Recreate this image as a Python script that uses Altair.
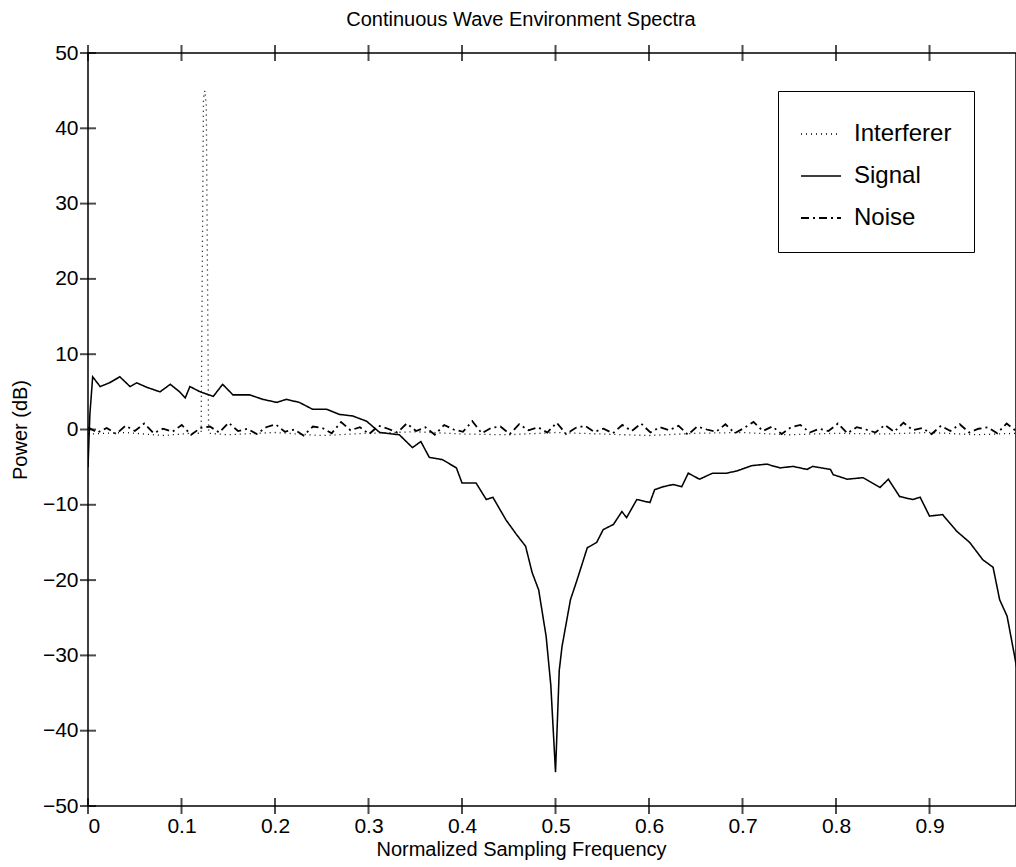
import altair as alt
import pandas as pd
import numpy as np

# ---- data ----
signal_f = [0.000, 0.002, 0.005, 0.013, 0.023, 0.034, 0.045, 0.052, 0.063, 0.077,
            0.088, 0.098, 0.104, 0.109, 0.120, 0.134, 0.144, 0.155, 0.173, 0.187,
            0.202, 0.212, 0.226, 0.240, 0.255, 0.269, 0.283, 0.298, 0.312, 0.333,
            0.347, 0.356, 0.365, 0.379, 0.394, 0.400, 0.415, 0.426, 0.433, 0.447,
            0.458, 0.468, 0.475, 0.482, 0.490, 0.495, 0.500, 0.504, 0.507, 0.516,
            0.523, 0.534, 0.544, 0.551, 0.562, 0.571, 0.576, 0.587, 0.601, 0.606,
            0.615, 0.626, 0.635, 0.642, 0.654, 0.668, 0.683, 0.694, 0.710, 0.726,
            0.740, 0.754, 0.769, 0.775, 0.794, 0.797, 0.812, 0.829, 0.847, 0.856,
            0.868, 0.882, 0.890, 0.900, 0.914, 0.929, 0.943, 0.957, 0.968, 0.975,
            0.983, 0.991, 0.993]
signal_db = [-5.0, 2.0, 7.0, 5.7, 6.2, 7.0, 5.7, 6.2, 5.6, 5.0,
             6.0, 5.0, 4.2, 5.7, 5.0, 4.4, 6.0, 4.6, 4.6, 4.0,
             3.6, 4.0, 3.6, 2.7, 2.7, 2.0, 1.8, 1.1, -0.4, -0.7,
             -2.4, -1.6, -3.7, -4.0, -5.1, -7.1, -7.1, -9.3, -9.0, -12.0,
             -13.9, -15.5, -19.0, -21.3, -27.5, -34.0, -45.5, -32.0, -28.8, -22.6,
             -20.0, -15.7, -15.0, -13.3, -12.6, -10.9, -11.7, -9.3, -9.7, -8.0,
             -7.6, -7.3, -7.6, -5.8, -6.6, -5.8, -5.8, -5.5, -4.8, -4.6,
             -5.1, -4.9, -5.3, -4.9, -5.3, -6.0, -6.6, -6.4, -7.7, -6.6,
             -8.9, -9.3, -9.0, -11.5, -11.3, -13.5, -15.0, -17.3, -18.3, -22.6,
             -24.8, -30.1, -31.5]

noise_db = [0.3, -0.4, 0.2, -0.6, 0.5, -0.2, 0.8, -0.5, 0.1, -0.3,
            0.6, -0.7, 0.2, 0.4, -0.4, 0.9, -0.2, 0.1, -0.6, 0.3,
            0.7, -0.3, 0.0, -0.8, 0.4, 0.2, -0.5, 1.0, -0.1, 0.3,
            -0.6, 0.5, 0.1, -0.4, 0.8, -0.2, 0.3, -0.7, 0.6, 0.0,
            -0.3, 1.1, -0.5, 0.2, 0.4, -0.6, 0.7, -0.1, 0.3, -0.4,
            0.9, -0.6, 0.2, 0.5, -0.3, 0.1, -0.5, 0.6, -0.2, 0.8,
            -0.4, 0.3, -0.1, 0.5, -0.7, 0.4, 0.0, -0.3, 0.7, -0.5,
            0.2, 1.0, -0.2, 0.4, -0.6, 0.3, 0.6, -0.4, 0.1, -0.2,
            0.8, -0.5, 0.3, 0.0, -0.4, 0.6, -0.3, 0.9, -0.1, 0.2,
            -0.6, 0.5, -0.2, 0.7, -0.4, 0.1, 0.3, -0.5, 0.8, -0.2]
noise_f = list(np.linspace(0.0, 0.9925, len(noise_db)))

interf_f = [0.000, 0.040, 0.080, 0.110, 0.121, 0.1235, 0.125, 0.1265, 0.129,
            0.150, 0.200, 0.250, 0.300, 0.350, 0.400, 0.450, 0.500, 0.550,
            0.600, 0.650, 0.700, 0.750, 0.800, 0.850, 0.900, 0.950, 0.9925]
interf_db = [-0.6, -0.4, -0.8, -0.5, -0.5, 44.0, 45.0, 43.0, -0.5,
             -0.7, -0.4, -0.8, -0.5, -0.3, -0.6, -0.7, -0.4, -0.6,
             -0.8, -0.5, -0.4, -0.7, -0.5, -0.6, -0.4, -0.7, -0.5]

x_ticks = [0.0, 0.1, 0.2, 0.3, 0.4, 0.5, 0.6, 0.7, 0.8, 0.9]
y_ticks = [-50, -40, -30, -20, -10, 0, 10, 20, 30, 40, 50]
x_domain = [0.0, 0.9925]
y_domain = [-50, 50]
series_names = ["Interferer", "Signal", "Noise"]

rows = []
for f, d in zip(interf_f, interf_db):
    rows.append({"series": "Interferer", "f": f, "db": d})
for f, d in zip(signal_f, signal_db):
    rows.append({"series": "Signal", "f": f, "db": d})
for f, d in zip(noise_f, noise_db):
    rows.append({"series": "Noise", "f": float(f), "db": d})
df = pd.DataFrame(rows)

# tick marks at the frame edges, built from the tick lists
vt_df = pd.DataFrame({"f": x_ticks + x_ticks,
                      "db": [y_domain[0]] * len(x_ticks) + [y_domain[1]] * len(x_ticks)})
ht_df = pd.DataFrame({"f": [x_domain[0]] * len(y_ticks), "db": y_ticks})

FONT = "Liberation Sans"

x_scale = alt.Scale(domain=x_domain, nice=False, zero=False)
y_scale = alt.Scale(domain=y_domain, nice=False)
dash_scale = alt.Scale(domain=series_names, range=[[1, 4], [1, 0], [8, 4, 2, 4]])
width_scale = alt.Scale(domain=series_names, range=[1.3, 1.8, 1.3])

y_axis = alt.Axis(orient="left", values=y_ticks, ticks=False, tickSize=0,
                  domain=False, grid=False, labelPadding=10,
                  labelFontSize=21, labelColor="black",
                  title="Power (dB)", titleFontSize=20, titleFontWeight="normal",
                  titleColor="black", titlePadding=12)

x_axis = alt.Axis(orient="bottom", values=x_ticks, format=".1~f", ticks=False,
                  tickSize=0, domain=False, grid=False,
                  labelPadding=9, labelFontSize=21, labelColor="black",
                  title="Normalized Sampling Frequency",
                  titleFontSize=20, titleFontWeight="normal", titleColor="black",
                  titlePadding=3, titleX=433)

legend = alt.Legend(title=None, orient="none", legendX=690, legendY=38,
                    symbolType="stroke", symbolSize=1600, symbolStrokeWidth=1.5,
                    symbolStrokeColor="black", labelFontSize=24, labelColor="black",
                    labelOffset=12, padding=22, rowPadding=9, strokeColor="black",
                    fillColor="white", cornerRadius=0, labelFont=FONT)

X = alt.X("f:Q", scale=x_scale, axis=x_axis)
Y = alt.Y("db:Q", scale=y_scale, axis=y_axis)

lines = alt.Chart(df).mark_line(color="black", clip=True).encode(
    x=X,
    y=Y,
    strokeDash=alt.StrokeDash("series:N", scale=dash_scale, legend=legend,
                              sort=series_names),
    strokeWidth=alt.StrokeWidth("series:N", scale=width_scale, legend=None),
)

vticks = alt.Chart(vt_df).mark_tick(orient="vertical", size=16, thickness=2,
                                    color="black").encode(x=X, y=Y)
hticks = alt.Chart(ht_df).mark_tick(orient="horizontal", size=16, thickness=2,
                                    color="black").encode(x=X, y=Y)

chart = alt.layer(lines, vticks, hticks).properties(
    width=928,
    height=753,
    autosize=alt.AutoSizeParams(type="none"),
    padding={"left": 88, "top": 53, "right": 0, "bottom": 61},
    title=alt.TitleParams("Continuous Wave Environment Spectra", fontSize=20,
                          fontWeight="normal", font=FONT, color="black",
                          anchor="middle", dx=-31, offset=12),
).configure(font=FONT, background="white").configure_view(
    stroke="black", strokeWidth=1.5
)

chart.save("out.html", embed_options={"renderer": "svg", "actions": False})
